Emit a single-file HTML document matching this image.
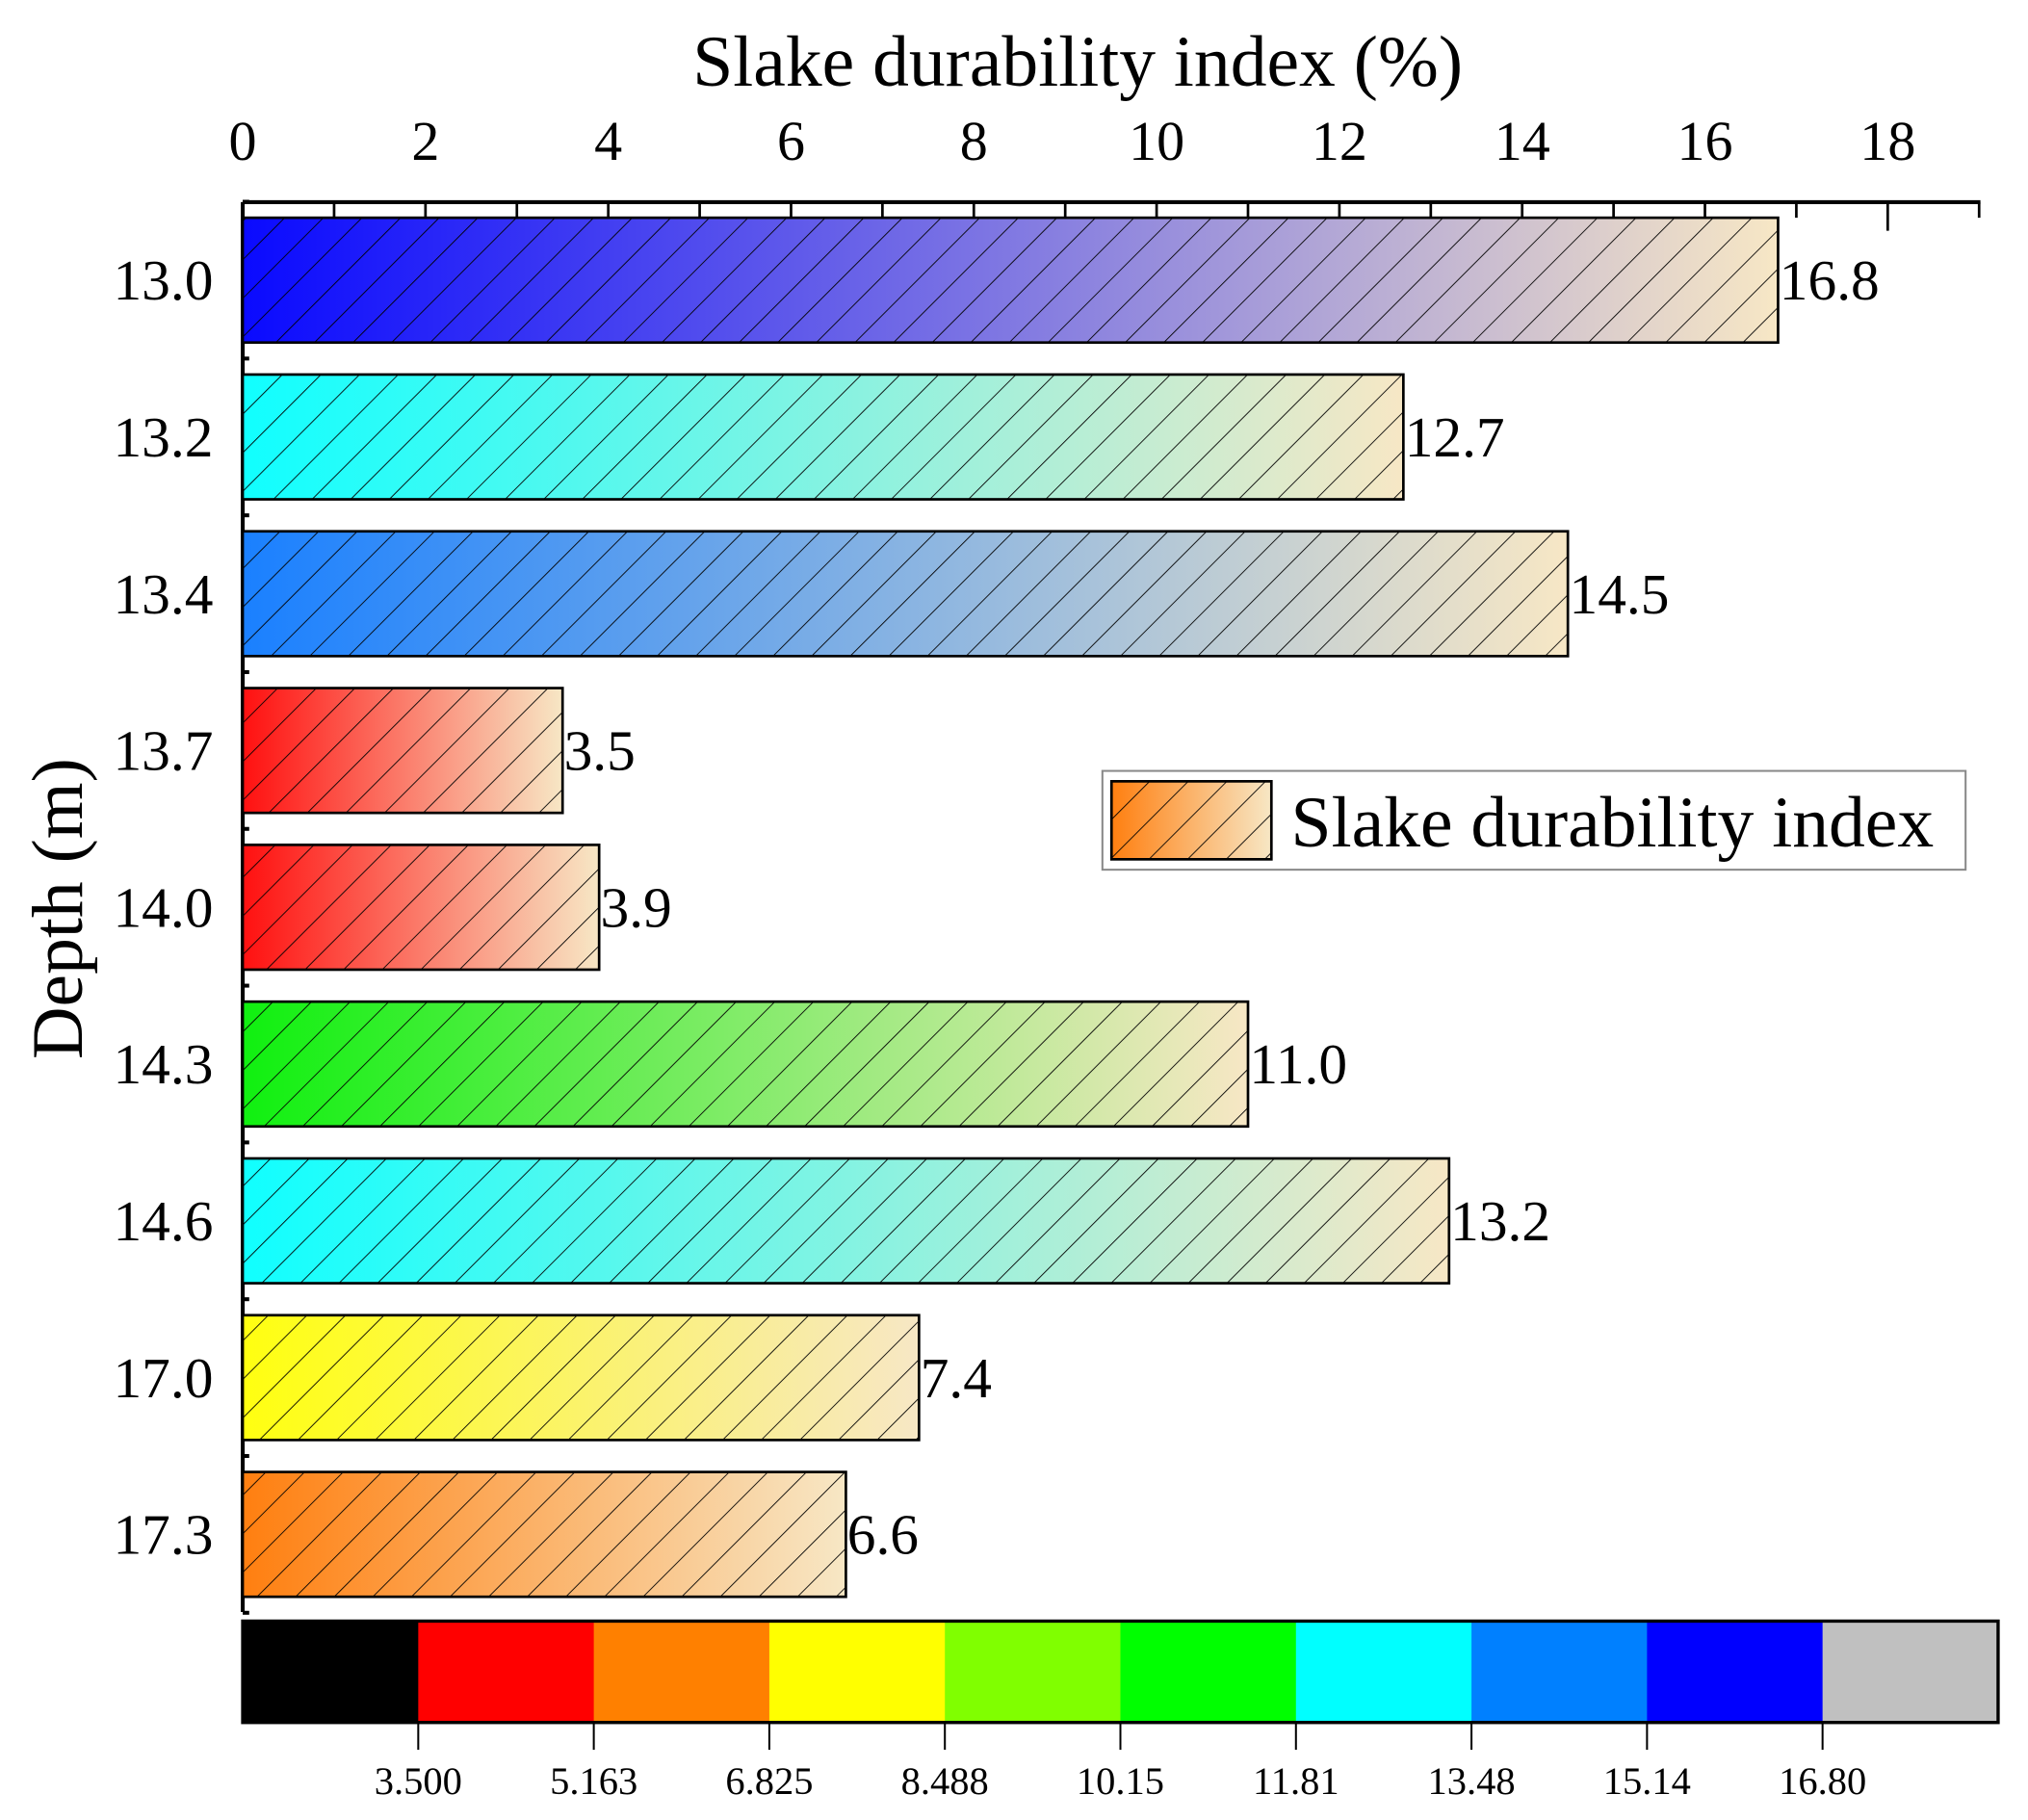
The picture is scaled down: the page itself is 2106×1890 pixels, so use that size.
<!DOCTYPE html>
<html><head><meta charset="utf-8"><style>
html,body{margin:0;padding:0;background:#fff}
svg{display:block}
text{font-family:"Liberation Serif",serif;fill:#000}
</style></head><body>
<svg id="chart" width="2106" height="1890" viewBox="0 0 1560 1400" xmlns="http://www.w3.org/2000/svg">
<defs>
<pattern id="hatch" patternUnits="userSpaceOnUse" width="21" height="21" patternTransform="rotate(45)">
<line x1="0" y1="0" x2="0" y2="21" stroke="#000" stroke-width="1.3"/>
</pattern>
</defs>
<text x="829" y="66" font-size="56" text-anchor="middle">Slake durability index (%)</text>
<text transform="translate(63,699) rotate(-90)" font-size="56" text-anchor="middle">Depth (m)</text>
<g id="axes"></g>
<g id="bars"></g>
<g>
<rect x="848" y="593" width="664" height="76" fill="#fff" stroke="#888" stroke-width="1.5"/>
<defs><linearGradient id="lg" x1="0" x2="1" y1="0" y2="0"><stop offset="0" stop-color="#ff7f10"/><stop offset="1" stop-color="#f7e7c5"/></linearGradient></defs>
<rect x="855" y="601" width="123" height="60" fill="url(#lg)" stroke="#000" stroke-width="2"/>
<rect x="855" y="601" width="123" height="60" fill="url(#hatch)"/>
<text x="993" y="651" font-size="56">Slake durability index</text>
</g>
<g id="cbar"></g>
</svg>
<script>
const categories = ["13.0","13.2","13.4","13.7","14.0","14.3","14.6","17.0","17.3"];
const values = [16.8,12.7,14.5,3.5,3.9,11.0,13.2,7.4,6.6];
const barColors = ["#0a0aff","#10ffff","#1a80ff","#ff1010","#ff1010","#10f010","#10ffff","#ffff10","#ff7f10"];
const xTicks = [0,2,4,6,8,10,12,14,16,18];
const cbarColors = ["#000000","#ff0000","#ff8000","#ffff00","#80ff00","#00ff00","#00ffff","#0080ff","#0000ff","#c0c0c0"];
const cbarLabels = ["3.500","5.163","6.825","8.488","10.15","11.81","13.48","15.14","16.80"];

const NS="http://www.w3.org/2000/svg";
const X0=186.7, UNIT=70.3, TOP=155.5, BAND=120.6, FIRST=215.5, BH=96;
const xs=v=>X0+v*UNIT;
const ys=i=>FIRST+i*BAND;
function mk(tag,attrs,parent){const e=document.createElementNS(NS,tag);for(const k in attrs)e.setAttribute(k,attrs[k]);parent.appendChild(e);return e;}
const axes=document.getElementById('axes'), bars=document.getElementById('bars'), cb=document.getElementById('cbar');
const defs=document.querySelector('defs');

let ax=mk('line',{x1:X0,y1:TOP,x2:xs(19)+1,y2:TOP,stroke:'#000','stroke-width':3},axes);


for(let v=0;v<=19;v++){
  const t=mk('line',{x1:xs(v),y1:TOP,x2:xs(v),y2:TOP+(v%2===0?22:12),stroke:'#000','stroke-width':2},axes);
  
  
}
xTicks.forEach(v=>{
  const t=mk('text',{x:xs(v),y:123,'font-size':43,'text-anchor':'middle'},axes);
  t.textContent=v;
  
  
});
let la=mk('line',{x1:X0,y1:TOP,x2:X0,y2:1240,stroke:'#000','stroke-width':3},axes);


for(let i=0;i<=categories.length;i++){
  const y=FIRST-BAND/2+i*BAND;
  const t=mk('line',{x1:X0,y1:y,x2:X0+5,y2:y,stroke:'#000','stroke-width':3},axes);
  
  
}

categories.forEach((c,i)=>{
  const g=mk('linearGradient',{id:'g'+i,x1:0,x2:1,y1:0,y2:0},defs);
  mk('stop',{offset:0,'stop-color':barColors[i]},g);
  mk('stop',{offset:1,'stop-color':'#f7e7c5'},g);
  const y=ys(i)-BH/2, w=xs(values[i])-X0;
  const r=mk('rect',{x:X0,y:y,width:w,height:BH,fill:'url(#g'+i+')',stroke:'#000','stroke-width':2},bars);
  
  
  mk('rect',{x:X0,y:y,width:w,height:BH,fill:'url(#hatch)'},bars);
  const lab=mk('text',{x:164,y:ys(i)+15,'font-size':44,'text-anchor':'end'},bars);
  lab.textContent=c;
  
  
  const vl=mk('text',{x:xs(values[i])+1,y:ys(i)+15,'font-size':44},bars);
  vl.textContent=values[i].toFixed(1);
  
  
});

const CX0=186.7, CX1=1537, CY=1247, CH=78, seg=(CX1-CX0)/cbarColors.length;
cbarColors.forEach((col,i)=>{
  const r=mk('rect',{x:CX0+i*seg,y:CY,width:seg+0.5,height:CH,fill:col},cb);
  
  
});
let cbb=mk('rect',{x:CX0,y:CY,width:CX1-CX0,height:CH,fill:'none',stroke:'#000','stroke-width':2.5},cb);


cbarLabels.forEach((l,i)=>{
  const x=CX0+(i+1)*seg;
  const t=mk('line',{x1:x,y1:CY+CH,x2:x,y2:1346,stroke:'#000','stroke-width':1.5},cb);
  
  
  const tx=mk('text',{x:x,y:1380,'font-size':30,'text-anchor':'middle'},cb);
  tx.textContent=l;
  
  
});
</script>
</body></html>
